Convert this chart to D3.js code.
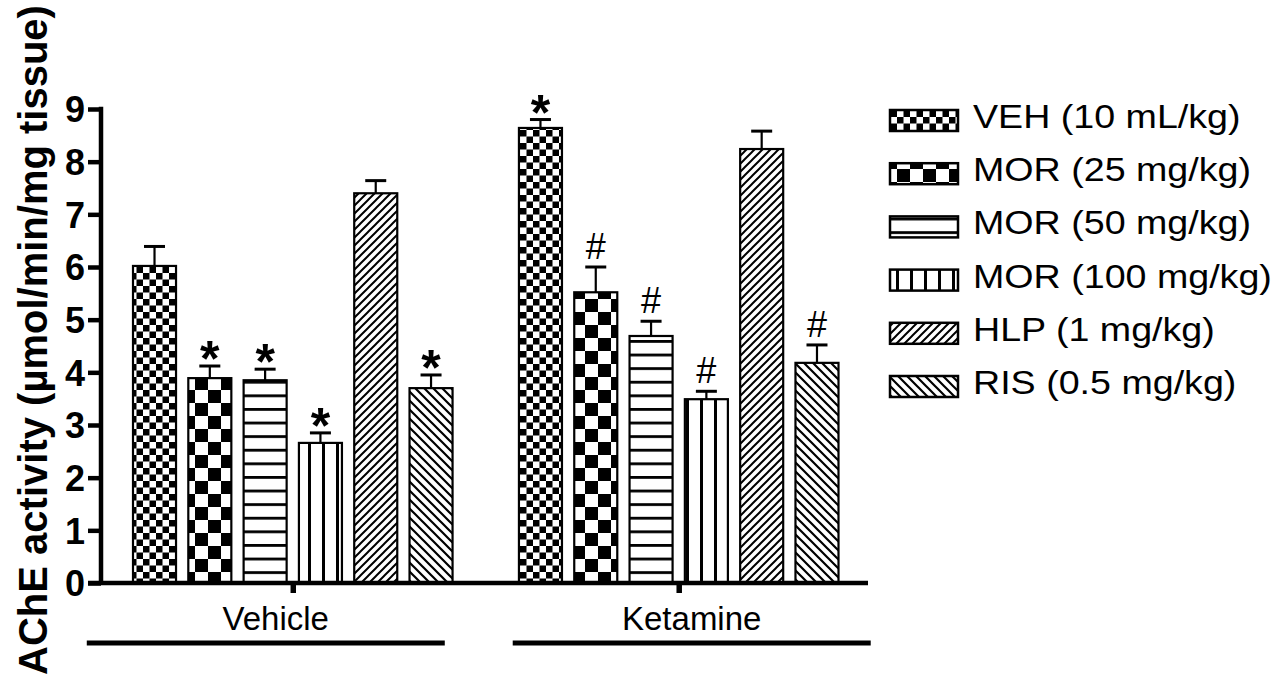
<!DOCTYPE html>
<html>
<head>
<meta charset="utf-8">
<script src="https://cdn.jsdelivr.net/npm/d3@7"></script>
<style>
  html, body { margin: 0; padding: 0; background: #fff; }
  svg { display: block; font-family: "Liberation Sans", Arial, Helvetica, sans-serif; }
</style>
</head>
<body>
<svg id="chart" width="1275" height="679"></svg>
<script>
// Treatment groups and drug series
const groups = ["Vehicle", "Ketamine"];
const series = ["VEH (10 mL/kg)", "MOR (25 mg/kg)", "MOR (50 mg/kg)", "MOR (100 mg/kg)", "HLP (1 mg/kg)", "RIS (0.5 mg/kg)"];

// AChE activity (mean and SEM) per group
const vehicleMeans   = [6.02, 3.89, 3.85, 2.66, 7.40, 3.70];
const vehicleSEM     = [0.37, 0.23, 0.21, 0.19, 0.24, 0.25];
const ketamineMeans  = [8.64, 5.52, 4.69, 3.49, 8.24, 4.18];
const ketamineSEM    = [0.16, 0.48, 0.28, 0.15, 0.34, 0.34];

// Significance markers
const vehicleMarks   = ["", "*", "*", "*", "", "*"];
const ketamineMarks  = ["*", "#", "#", "#", "", "#"];

const yTicks = [0, 1, 2, 3, 4, 5, 6, 7, 8, 9];
const yTitle = "AChE activity (µmol/min/mg tissue)";

const rows = [];
groups.forEach((g, gi) => {
  const means = gi === 0 ? vehicleMeans : ketamineMeans;
  const sems = gi === 0 ? vehicleSEM : ketamineSEM;
  const marks = gi === 0 ? vehicleMarks : ketamineMarks;
  series.forEach((s, si) => rows.push({ group: g, series: s, si, mean: means[si], sem: sems[si], mark: marks[si] }));
});

const svg = d3.select("#chart");
svg.append("rect").attr("width", 1275).attr("height", 679).attr("fill", "#fff");

// ---- fill patterns ----
const defs = svg.append("defs");
function pat(id, w, h) {
  return defs.append("pattern").attr("id", id).attr("patternUnits", "userSpaceOnUse")
    .attr("width", w).attr("height", h);
}
// fine checkerboard
let p = pat("p0", 13, 13);
p.append("rect").attr("width", 13).attr("height", 13).attr("fill", "#fff");
p.append("rect").attr("width", 6.5).attr("height", 6.5).attr("fill", "#000");
p.append("rect").attr("x", 6.5).attr("y", 6.5).attr("width", 6.5).attr("height", 6.5).attr("fill", "#000");
// coarse checkerboard
p = pat("p1", 26, 26);
p.append("rect").attr("width", 26).attr("height", 26).attr("fill", "#fff");
p.append("rect").attr("width", 13).attr("height", 13).attr("fill", "#000");
p.append("rect").attr("x", 13).attr("y", 13).attr("width", 13).attr("height", 13).attr("fill", "#000");
// horizontal lines
p = pat("p2", 10, 13.6);
p.append("rect").attr("width", 10).attr("height", 13.6).attr("fill", "#fff");
p.append("rect").attr("y", 0).attr("width", 10).attr("height", 2.8).attr("fill", "#000");
// vertical lines
p = pat("p3", 14, 10);
p.append("rect").attr("width", 14).attr("height", 10).attr("fill", "#fff");
p.append("rect").attr("x", 0).attr("width", 3).attr("height", 10).attr("fill", "#000");
// forward diagonal
p = pat("p4", 8, 8);
p.append("rect").attr("width", 8).attr("height", 8).attr("fill", "#fff");
p.append("path").attr("d", "M-2,2 L2,-2 M0,8 L8,0 M6,10 L10,6")
  .attr("stroke", "#000").attr("stroke-width", 2);
// back diagonal
p = pat("p5", 9, 9);
p.append("rect").attr("width", 9).attr("height", 9).attr("fill", "#fff");
p.append("path").attr("d", "M-2,7 L2,11 M0,0 L9,9 M7,-2 L11,2")
  .attr("stroke", "#000").attr("stroke-width", 2.2);

const fillFor = i => `url(#p${i})`;

// ---- scales ----
const y0 = 583, y9 = 109;
const y = d3.scaleLinear().domain([0, 9]).range([y0, y9]);

const xGroup = d3.scaleBand().domain(groups).range([133, 838.5]).paddingInner(0.172).paddingOuter(0);
const xBar = d3.scaleBand().domain(series).range([0, xGroup.bandwidth()]).paddingInner(0.222).paddingOuter(0);

// ---- bars ----
const barG = svg.append("g");
barG.selectAll("rect.bar").data(rows).join("rect")
  .attr("class", "bar")
  .attr("x", d => xGroup(d.group) + xBar(d.series))
  .attr("y", d => y(d.mean))
  .attr("width", xBar.bandwidth())
  .attr("height", d => y(0) - y(d.mean))
  .attr("fill", d => fillFor(d.si))
  .attr("stroke", "#000")
  .attr("stroke-width", 2.2);

// ---- error bars (upper) ----
const errG = svg.append("g").attr("stroke", "#000");
rows.forEach(d => {
  const cx = xGroup(d.group) + xBar(d.series) + xBar.bandwidth() / 2;
  errG.append("line").attr("x1", cx).attr("x2", cx)
    .attr("y1", y(d.mean)).attr("y2", y(d.mean + d.sem)).attr("stroke-width", 2.2);
  errG.append("line").attr("x1", cx - 10.5).attr("x2", cx + 10.5)
    .attr("y1", y(d.mean + d.sem)).attr("y2", y(d.mean + d.sem)).attr("stroke-width", 3);
});

// ---- significance markers ----
rows.filter(d => d.mark).forEach(d => {
  const cx = xGroup(d.group) + xBar(d.series) + xBar.bandwidth() / 2;
  const top = y(d.mean + d.sem);
  if (d.mark === "*") {
    svg.append("text").attr("x", cx).attr("y", top + 10)
      .attr("text-anchor", "middle").attr("font-size", 50).attr("font-weight", "bold")
      .text("*");
  } else {
    svg.append("text").attr("x", cx).attr("y", top - 8)
      .attr("text-anchor", "middle").attr("font-size", 36)
      .text("#");
  }
});

// ---- y axis ----
const yAxis = svg.append("g").attr("transform", "translate(101,0)")
  .call(d3.axisLeft(y).tickValues(yTicks).tickSize(13).tickSizeOuter(0).tickFormat(d3.format("d")));
yAxis.select(".domain").remove();
yAxis.selectAll(".tick line").attr("stroke", "#000").attr("stroke-width", 4.5);
yAxis.selectAll(".tick text").attr("x", -16).attr("dy", "0.36em")
  .attr("font-size", 36).attr("font-weight", "bold").attr("fill", "#000")
  .attr("font-family", "'Liberation Sans', Arial, sans-serif");
svg.append("line").attr("x1", 101).attr("x2", 101).attr("y1", y(9) - 2.2).attr("y2", y(0))
  .attr("stroke", "#000").attr("stroke-width", 4.5);

// ---- x axis ----
svg.append("line").attr("x1", 88).attr("x2", 868).attr("y1", y(0)).attr("y2", y(0))
  .attr("stroke", "#000").attr("stroke-width", 4.5);
const xAxis = svg.append("g").attr("transform", `translate(0,${y(0)})`)
  .call(d3.axisBottom(d3.scalePoint().domain(groups).range([xGroup("Vehicle") + xGroup.bandwidth() / 2, xGroup("Ketamine") + xGroup.bandwidth() / 2]))
    .tickSize(10).tickSizeOuter(0).tickFormat(""));
xAxis.select(".domain").remove();
xAxis.selectAll(".tick line").attr("stroke", "#000").attr("stroke-width", 5.5);

// ---- group labels with underlines ----
const groupLabelShift = [-17, 13];
const groupLineShift = [-27, 13];
groups.forEach((g, gi) => {
  const c = xGroup(g) + xGroup.bandwidth() / 2;
  svg.append("text").attr("x", c + groupLabelShift[gi]).attr("y", 630)
    .attr("text-anchor", "middle").attr("font-size", 33).text(g);
  const lc = c + groupLineShift[gi];
  svg.append("line").attr("x1", lc - 179).attr("x2", lc + 179).attr("y1", 643).attr("y2", 643)
    .attr("stroke", "#000").attr("stroke-width", 5);
});

// ---- y title ----
svg.append("text")
  .attr("transform", "translate(47,340) rotate(-90)")
  .attr("text-anchor", "middle").attr("font-size", 40).attr("font-weight", "bold")
  .text(yTitle);

// ---- legend ----
const legend = svg.append("g");
series.forEach((s, i) => {
  const by = 128 + i * 53.2;
  legend.append("rect").attr("x", 890).attr("y", by - 18).attr("width", 68).attr("height", 21)
    .attr("fill", fillFor(i)).attr("stroke", "#000").attr("stroke-width", 2.5);
  legend.append("text").attr("transform", `translate(973,${by}) scale(1.14,1)`)
    .attr("font-size", 33).text(s);
});
</script>
</body>
</html>
